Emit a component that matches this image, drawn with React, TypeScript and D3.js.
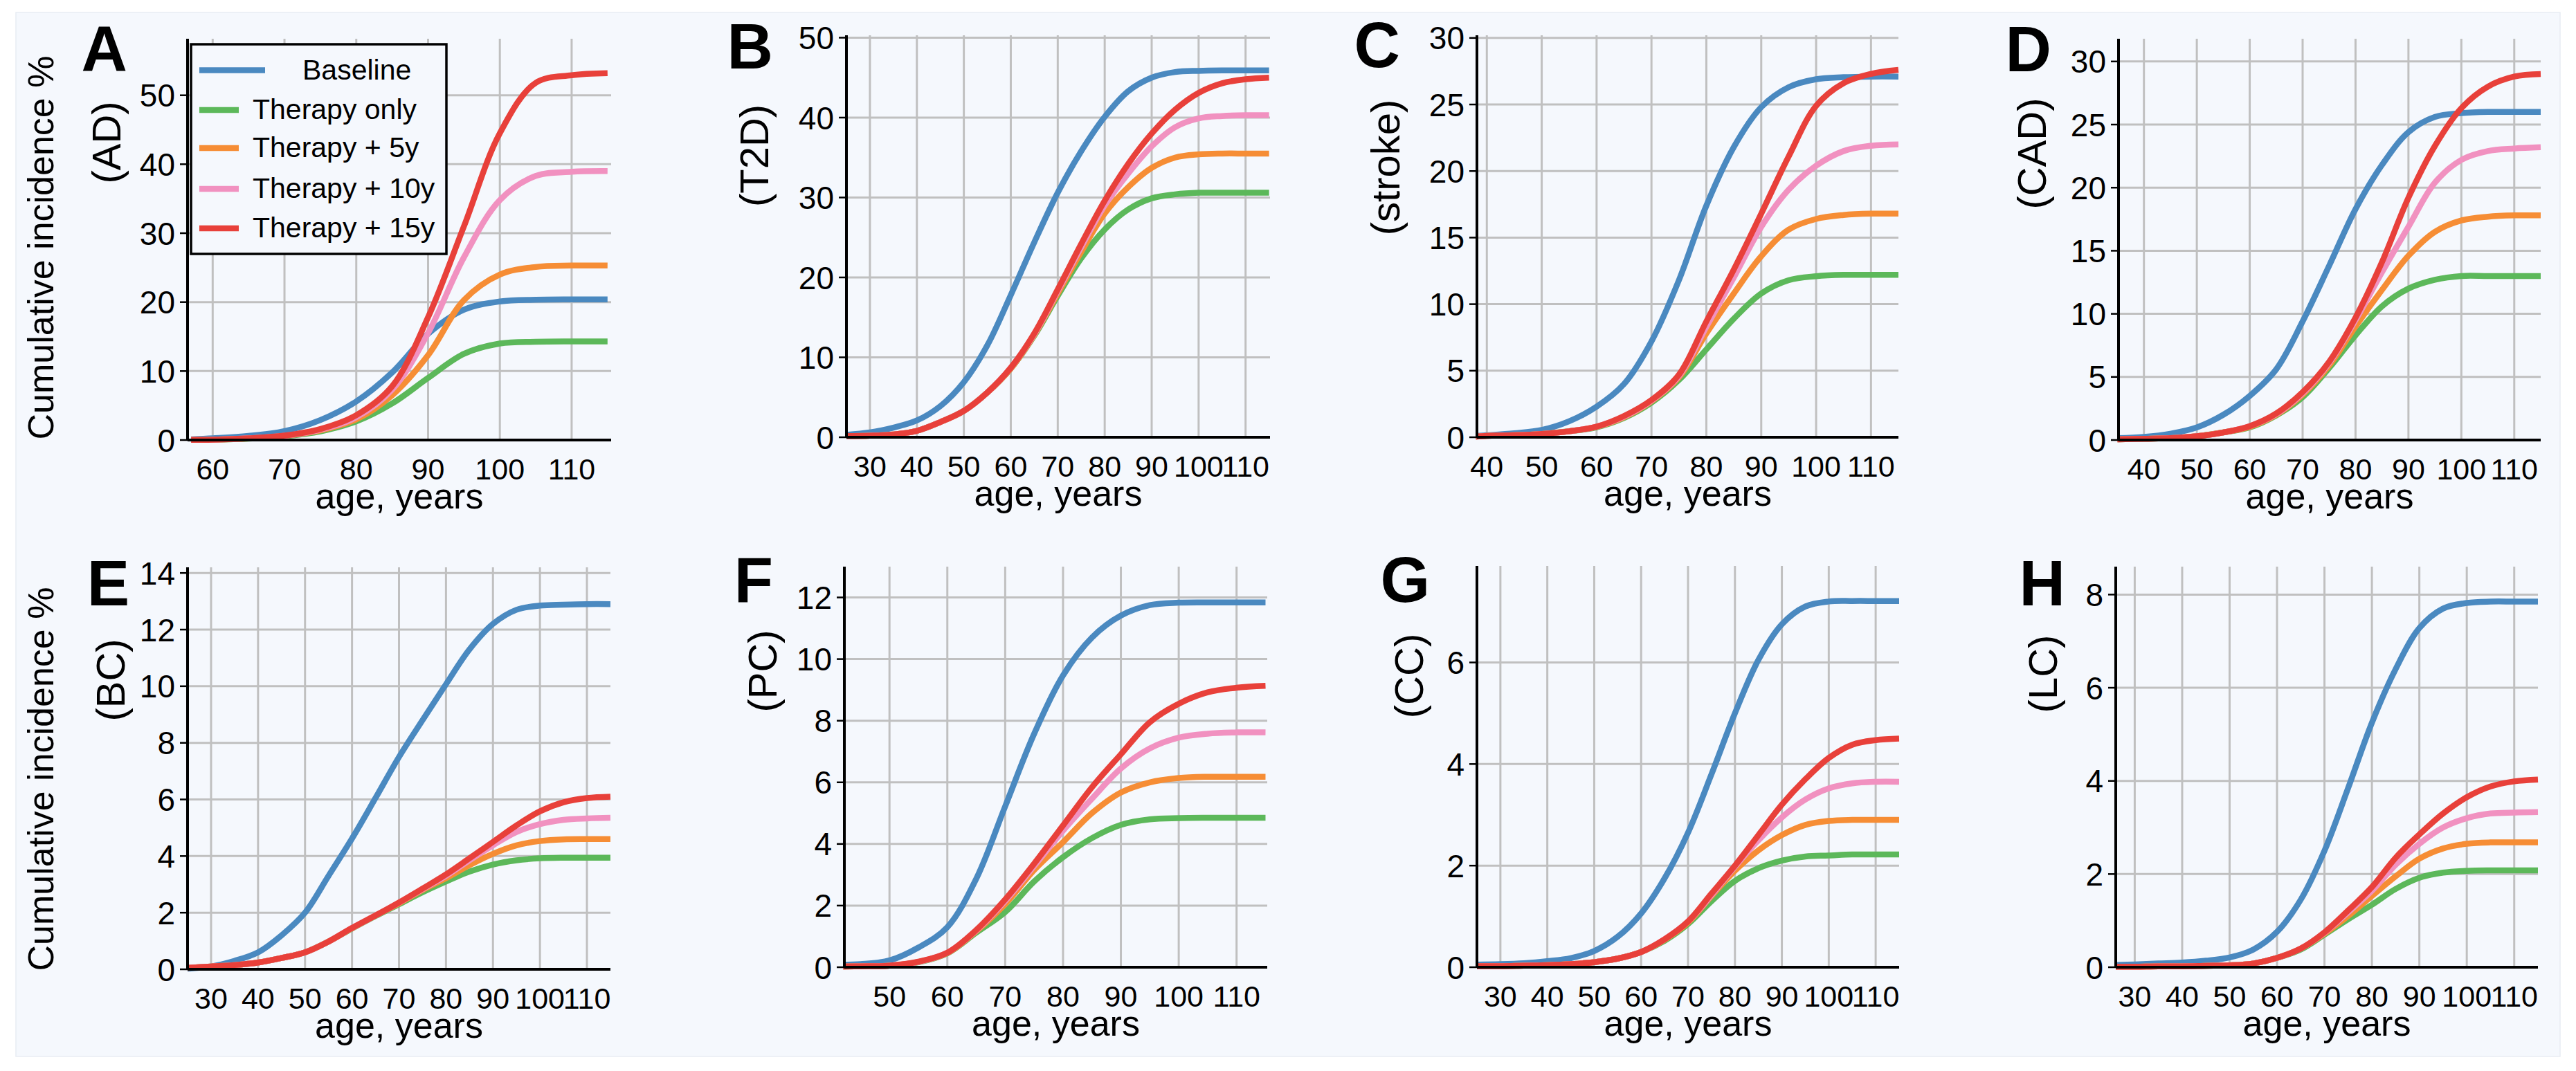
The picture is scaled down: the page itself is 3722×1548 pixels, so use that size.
import React from 'react';
import * as d3 from 'd3';

const FONT = '"Liberation Sans", Arial, Helvetica, sans-serif';
const BG = '#f5f8fd';
const GRID = '#c0c0c0';

const seriesNames = ['Baseline', 'Therapy only', 'Therapy + 5y', 'Therapy + 10y', 'Therapy + 15y'];
const seriesColors = ['#4a89c0', '#5cb85a', '#f68d35', '#f191c0', '#e8403a'];

// rows: Baseline, Therapy only, +5y, +10y, +15y (cumulative incidence, %)
const agesAD = [57, 60, 65, 70, 75, 80, 85, 90, 95, 100, 105, 110, 115];
const valuesAD = [
  [0.1, 0.25, 0.6, 1.3, 2.9, 5.6, 9.8, 15.4, 18.9, 20.1, 20.35, 20.4, 20.4],
  [0.02, 0.05, 0.2, 0.55, 1.25, 2.7, 5.3, 9.0, 12.5, 14.0, 14.25, 14.3, 14.3],
  [0.02, 0.05, 0.22, 0.6, 1.4, 3.0, 6.5, 12.3, 20.3, 24.0, 25.1, 25.3, 25.3],
  [0.02, 0.06, 0.24, 0.62, 1.5, 3.3, 7.3, 15.5, 26.5, 34.8, 38.3, 38.9, 39.0],
  [0.02, 0.06, 0.25, 0.65, 1.6, 3.6, 7.8, 17.8, 31.0, 44.5, 51.8, 52.9, 53.2],
];

const agesT2D = [25, 30, 35, 40, 45, 50, 55, 60, 65, 70, 75, 80, 85, 90, 95, 100, 105, 110, 115];
const valuesT2D = [
  [0.3, 0.6, 1.2, 2.1, 3.9, 6.9, 11.5, 17.8, 24.4, 30.6, 35.8, 40.1, 43.3, 45.0, 45.7, 45.85, 45.9, 45.9, 45.9],
  [0.15, 0.2, 0.35, 0.8, 1.9, 3.3, 5.6, 8.6, 12.7, 17.7, 22.4, 26.0, 28.5, 29.9, 30.4, 30.6, 30.6, 30.6, 30.6],
  [0.15, 0.2, 0.35, 0.8, 1.9, 3.3, 5.6, 8.6, 12.8, 18.0, 23.2, 28.0, 31.3, 33.7, 35.0, 35.4, 35.5, 35.5, 35.5],
  [0.15, 0.2, 0.35, 0.8, 1.9, 3.3, 5.6, 8.7, 12.9, 18.3, 23.8, 29.0, 33.0, 36.4, 38.8, 39.9, 40.2, 40.3, 40.3],
  [0.15, 0.2, 0.35, 0.8, 1.9, 3.3, 5.6, 8.7, 13.0, 18.5, 24.2, 29.6, 34.2, 38.0, 41.0, 43.1, 44.3, 44.8, 45.0],
];

const agesStroke = [38, 40, 45, 50, 55, 60, 65, 70, 75, 80, 85, 90, 95, 100, 105, 110, 115];
const valuesStroke = [
  [0.1, 0.15, 0.3, 0.55, 1.2, 2.3, 4.0, 7.2, 11.8, 17.4, 21.8, 24.8, 26.3, 26.9, 27.05, 27.1, 27.1],
  [0.05, 0.1, 0.15, 0.25, 0.45, 0.75, 1.45, 2.6, 4.3, 6.6, 8.9, 10.8, 11.8, 12.1, 12.2, 12.2, 12.2],
  [0.05, 0.1, 0.15, 0.25, 0.45, 0.78, 1.5, 2.7, 4.5, 7.8, 10.8, 13.6, 15.6, 16.4, 16.7, 16.8, 16.8],
  [0.05, 0.1, 0.15, 0.25, 0.45, 0.8, 1.55, 2.75, 4.6, 8.3, 12.0, 15.8, 18.6, 20.4, 21.5, 21.9, 22.0],
  [0.05, 0.1, 0.15, 0.25, 0.45, 0.8, 1.6, 2.8, 4.7, 8.7, 12.6, 16.8, 21.1, 24.9, 26.6, 27.3, 27.6],
];

const agesCAD = [35, 40, 45, 50, 55, 60, 65, 70, 75, 80, 85, 90, 95, 100, 105, 110, 115];
const valuesCAD = [
  [0.15, 0.25, 0.5, 1.0, 2.0, 3.5, 5.6, 9.4, 13.8, 18.3, 21.8, 24.4, 25.6, 25.9, 26.0, 26.0, 26.0],
  [0.05, 0.1, 0.15, 0.3, 0.6, 1.0, 1.95, 3.4, 5.7, 8.3, 10.6, 12.0, 12.7, 13.0, 13.0, 13.0, 13.0],
  [0.05, 0.1, 0.15, 0.3, 0.6, 1.05, 2.0, 3.6, 5.9, 9.0, 11.9, 14.6, 16.5, 17.4, 17.7, 17.8, 17.8],
  [0.05, 0.1, 0.15, 0.3, 0.6, 1.1, 2.05, 3.7, 6.1, 9.5, 13.3, 16.9, 20.4, 22.2, 22.9, 23.1, 23.2],
  [0.05, 0.1, 0.15, 0.3, 0.6, 1.1, 2.1, 3.8, 6.2, 9.7, 14.1, 19.2, 23.3, 26.3, 28.0, 28.8, 29.0],
];

const agesBC = [25, 30, 35, 40, 45, 50, 55, 60, 65, 70, 75, 80, 85, 90, 95, 100, 105, 110, 115];
const valuesBC = [
  [0.02, 0.1, 0.3, 0.6, 1.2, 2.0, 3.3, 4.62, 6.05, 7.5, 8.8, 10.07, 11.3, 12.2, 12.7, 12.85, 12.88, 12.9, 12.9],
  [0.05, 0.1, 0.15, 0.24, 0.4, 0.6, 0.98, 1.44, 1.88, 2.3, 2.72, 3.1, 3.45, 3.7, 3.85, 3.92, 3.94, 3.94, 3.94],
  [0.05, 0.1, 0.15, 0.24, 0.4, 0.6, 0.98, 1.45, 1.9, 2.33, 2.8, 3.22, 3.68, 4.08, 4.38, 4.53, 4.59, 4.6, 4.6],
  [0.05, 0.1, 0.15, 0.24, 0.4, 0.6, 0.98, 1.46, 1.9, 2.35, 2.83, 3.3, 3.85, 4.38, 4.85, 5.13, 5.28, 5.33, 5.35],
  [0.05, 0.1, 0.15, 0.24, 0.4, 0.6, 0.98, 1.46, 1.9, 2.36, 2.85, 3.35, 3.92, 4.5, 5.08, 5.58, 5.9, 6.05, 6.1],
];

const agesPC = [42, 45, 50, 55, 60, 65, 70, 75, 80, 85, 90, 95, 100, 105, 110, 115];
const valuesPC = [
  [0.08, 0.1, 0.22, 0.64, 1.3, 2.87, 5.22, 7.57, 9.47, 10.7, 11.41, 11.75, 11.83, 11.84, 11.84, 11.84],
  [0.02, 0.03, 0.05, 0.16, 0.45, 1.12, 1.79, 2.78, 3.57, 4.19, 4.62, 4.8, 4.84, 4.85, 4.85, 4.85],
  [0.02, 0.03, 0.05, 0.17, 0.46, 1.17, 2.05, 3.15, 4.06, 5.0, 5.67, 6.0, 6.14, 6.18, 6.18, 6.18],
  [0.02, 0.03, 0.05, 0.17, 0.47, 1.19, 2.15, 3.28, 4.43, 5.47, 6.45, 7.1, 7.45, 7.58, 7.62, 7.62],
  [0.02, 0.03, 0.05, 0.18, 0.47, 1.21, 2.2, 3.36, 4.6, 5.84, 6.91, 7.95, 8.55, 8.92, 9.07, 9.13],
];

const agesCC = [25, 30, 35, 40, 45, 50, 55, 60, 65, 70, 75, 80, 85, 90, 95, 100, 105, 110, 115];
const valuesCC = [
  [0.05, 0.06, 0.08, 0.12, 0.18, 0.32, 0.6, 1.06, 1.75, 2.65, 3.8, 5.0, 6.05, 6.75, 7.1, 7.2, 7.21, 7.21, 7.21],
  [0.02, 0.02, 0.03, 0.04, 0.06, 0.1, 0.17, 0.3, 0.52, 0.85, 1.3, 1.7, 1.95, 2.1, 2.18, 2.2, 2.22, 2.22, 2.22],
  [0.02, 0.02, 0.03, 0.04, 0.06, 0.1, 0.17, 0.3, 0.54, 0.88, 1.4, 1.9, 2.3, 2.6, 2.8, 2.88, 2.9, 2.9, 2.9],
  [0.02, 0.02, 0.03, 0.04, 0.06, 0.1, 0.17, 0.3, 0.55, 0.9, 1.42, 1.98, 2.5, 2.95, 3.3, 3.52, 3.62, 3.65, 3.65],
  [0.02, 0.02, 0.03, 0.04, 0.06, 0.1, 0.17, 0.3, 0.55, 0.9, 1.45, 2.0, 2.6, 3.2, 3.7, 4.12, 4.38, 4.47, 4.5],
];

const agesLC = [26, 30, 35, 40, 45, 50, 55, 60, 65, 70, 75, 80, 85, 90, 95, 100, 105, 110, 115];
const valuesLC = [
  [0.05, 0.06, 0.08, 0.1, 0.14, 0.21, 0.38, 0.76, 1.45, 2.5, 3.85, 5.25, 6.4, 7.28, 7.7, 7.82, 7.85, 7.85, 7.85],
  [0.01, 0.01, 0.02, 0.02, 0.03, 0.04, 0.08, 0.2, 0.38, 0.7, 1.03, 1.34, 1.68, 1.92, 2.03, 2.07, 2.08, 2.08, 2.08],
  [0.01, 0.01, 0.02, 0.02, 0.03, 0.04, 0.08, 0.2, 0.4, 0.72, 1.1, 1.53, 1.95, 2.33, 2.55, 2.65, 2.68, 2.68, 2.68],
  [0.01, 0.01, 0.02, 0.02, 0.03, 0.04, 0.08, 0.2, 0.4, 0.74, 1.18, 1.64, 2.2, 2.65, 3.0, 3.2, 3.3, 3.32, 3.33],
  [0.01, 0.01, 0.02, 0.02, 0.03, 0.04, 0.08, 0.2, 0.4, 0.75, 1.22, 1.72, 2.35, 2.85, 3.3, 3.65, 3.88, 3.99, 4.03],
];

// tick labels
const xTicksAD = [60, 70, 80, 90, 100, 110];
const xTicks30 = [30, 40, 50, 60, 70, 80, 90, 100, 110];
const xTicks40 = [40, 50, 60, 70, 80, 90, 100, 110];
const xTicksPC = [50, 60, 70, 80, 90, 100, 110];
const yTicksAD = [0, 10, 20, 30, 40, 50];
const yTicksT2D = [0, 10, 20, 30, 40, 50];
const yTicks30 = [0, 5, 10, 15, 20, 25, 30];
const yTicksBC = [0, 2, 4, 6, 8, 10, 12, 14];
const yTicksPC = [0, 2, 4, 6, 8, 10, 12];
const yTicksCC = [0, 2, 4, 6];
const yTicksLC = [0, 2, 4, 6, 8];

const panels = [
  { letter: 'A', disease: '(AD)', ages: agesAD, values: valuesAD, xTicks: xTicksAD, yTicks: yTicksAD,
    box: [271, 56, 883, 636], xDomain: [56.5, 115.5], yDomain: [0, 58.2], letterPos: [184, 102], diseasePos: [154, 206] },
  { letter: 'B', disease: '(T2D)', ages: agesT2D, values: valuesT2D, xTicks: xTicks30, yTicks: yTicksT2D,
    box: [1223, 51, 1835, 632], xDomain: [25, 115.2], yDomain: [0, 50.3], letterPos: [1117, 99], diseasePos: [1090, 225] },
  { letter: 'C', disease: '(stroke)', ages: agesStroke, values: valuesStroke, xTicks: xTicks40, yTicks: yTicks30,
    box: [2134, 51, 2743, 632], xDomain: [38.2, 115], yDomain: [0, 30.2], letterPos: [2023, 97], diseasePos: [2002, 242] },
  { letter: 'D', disease: '(CAD)', ages: agesCAD, values: valuesCAD, xTicks: xTicks40, yTicks: yTicks30,
    box: [3061, 56, 3671, 636], xDomain: [35.2, 115], yDomain: [0, 31.8], letterPos: [2964, 103], diseasePos: [2936, 222] },
  { letter: 'E', disease: '(BC)', ages: agesBC, values: valuesBC, xTicks: xTicks30, yTicks: yTicksBC,
    box: [271, 820, 882, 1401], xDomain: [25, 115], yDomain: [0, 14.2], letterPos: [187, 875], diseasePos: [160, 983] },
  { letter: 'F', disease: '(PC)', ages: agesPC, values: valuesPC, xTicks: xTicksPC, yTicks: yTicksPC,
    box: [1220, 819, 1831, 1398], xDomain: [42.2, 115.3], yDomain: [0, 13], letterPos: [1117, 870], diseasePos: [1102, 970] },
  { letter: 'G', disease: '(CC)', ages: agesCC, values: valuesCC, xTicks: xTicks30, yTicks: yTicksCC,
    box: [2134, 818, 2744, 1398], xDomain: [25, 115], yDomain: [0, 7.9], letterPos: [2066, 870], diseasePos: [2036, 977] },
  { letter: 'H', disease: '(LC)', ages: agesLC, values: valuesLC, xTicks: xTicks30, yTicks: yTicksLC,
    box: [3057, 819, 3667, 1398], xDomain: [26, 115], yDomain: [0, 8.6], letterPos: [2984, 875], diseasePos: [2952, 974] },
];

function Panel({ p }: { p: any }) {
  const [x0, y0, x1, y1] = p.box;
  const x = d3.scaleLinear().domain(p.xDomain).range([x0, x1]);
  const y = d3.scaleLinear().domain(p.yDomain).range([y1, y0]);
  const line = d3.line<number>()
    .x((_, i) => x(p.ages[i]))
    .y(d => y(d))
    .curve(d3.curveCatmullRom.alpha(0.5));

  return (
    <g>
      {/* grid */}
      {p.xTicks.map((t: number) => (
        <line key={'gx' + t} x1={x(t)} x2={x(t)} y1={y0} y2={y1} stroke={GRID} strokeWidth={3} />
      ))}
      {p.yTicks.map((t: number) => (
        <line key={'gy' + t} x1={x0} x2={x1} y1={y(t)} y2={y(t)} stroke={GRID} strokeWidth={3} />
      ))}

      {/* curves */}
      {p.values.map((vals: number[], si: number) => (
        <path key={'s' + si} d={line(vals) || ''} fill="none" stroke={seriesColors[si]} strokeWidth={8.5} />
      ))}

      {/* axes */}
      <line x1={x0} x2={x0} y1={y0} y2={y1} stroke="#000" strokeWidth={4} />
      <line x1={x0} x2={x1} y1={y1} y2={y1} stroke="#000" strokeWidth={4} />
      {p.yTicks.map((t: number) => (
        <g key={'ty' + t}>
          <line x1={x0 - 11} x2={x0} y1={y(t)} y2={y(t)} stroke="#000" strokeWidth={2.5} />
          <text x={x0 - 18} y={y(t)} dy="0.36em" textAnchor="end" fontSize={46} fontFamily={FONT}>{t}</text>
        </g>
      ))}
      {p.xTicks.map((t: number) => (
        <text key={'tx' + t} x={x(t)} y={y1 + 57} textAnchor="middle" fontSize={43} fontFamily={FONT}>{t}</text>
      ))}
      <text x={(x0 + x1) / 2} y={y1 + 99} textAnchor="middle" fontSize={52} fontFamily={FONT}>age, years</text>

      {/* labels */}
      <text x={p.letterPos[0]} y={p.letterPos[1]} textAnchor="end" fontSize={92} fontWeight="bold" fontFamily={FONT}>
        {p.letter}
      </text>
      <text transform={`translate(${p.diseasePos[0]},${p.diseasePos[1]}) rotate(-90)`} dy="0.35em"
        textAnchor="middle" fontSize={58} fontFamily={FONT}>
        {p.disease}
      </text>
    </g>
  );
}

function Legend() {
  const rowY = [101.5, 159, 214, 273, 330];
  return (
    <g>
      <rect x={276} y={64} width={369} height={303} fill={BG} stroke="#000" strokeWidth={3.5} />
      {seriesNames.map((name, i) => (
        <g key={name}>
          <line x1={288} x2={i === 0 ? 383 : 345} y1={rowY[i]} y2={rowY[i]} stroke={seriesColors[i]} strokeWidth={8.5} />
          <text x={i === 0 ? 437 : 365} y={rowY[i]} dy="0.32em" fontSize={41} fontFamily={FONT}>{name}</text>
        </g>
      ))}
    </g>
  );
}

export default function App() {
  return (
    <svg width={3722} height={1548} viewBox="0 0 3722 1548"
      style={{ position: 'absolute', left: 0, top: 0, display: 'block', background: '#fff' }}>
      <rect x={23} y={18} width={3676} height={1509} fill={BG} stroke="#e8edf3" strokeWidth={1.5} />
      {panels.map(p => <Panel key={p.letter} p={p} />)}
      <Legend />
      {[358, 1126].map(cy => (
        <text key={cy} transform={`translate(59,${cy}) rotate(-90)`} dy="0.35em" textAnchor="middle"
          fontSize={52} fontFamily={FONT}>
          Cumulative incidence %
        </text>
      ))}
    </svg>
  );
}
